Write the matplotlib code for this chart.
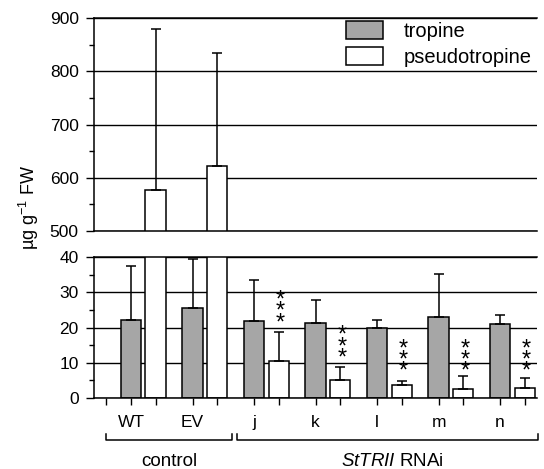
import matplotlib
matplotlib.use("Agg")
import matplotlib.pyplot as plt
from matplotlib.ticker import MultipleLocator
import numpy as np

plt.rcParams['font.family'] = ['Liberation Sans', 'DejaVu Sans']
plt.rcParams['mathtext.fontset'] = 'custom'
plt.rcParams['mathtext.rm'] = 'Liberation Sans'
plt.rcParams['mathtext.it'] = 'Liberation Sans:italic'

# data (µg g-1 FW), error bars are one-sided (up)
lines = ['WT', 'EV', 'j', 'k', 'l', 'm', 'n']
tropine = [22.1, 25.4, 21.9, 21.2, 20.0, 22.9, 20.9]
tropine_err = [15.4, 13.9, 11.6, 6.6, 2.1, 12.4, 2.6]
pseudotropine = [576.5, 621.7, 10.5, 5.1, 3.6, 2.5, 2.7]
pseudotropine_err = [302.5, 213.3, 8.2, 3.6, 1.3, 3.7, 3.0]
signif = ['', '', '***', '***', '***', '***', '***']

gray = '#a6a6a6'
x = np.arange(len(lines))
off = 0.4
w = 0.33

fig = plt.figure(figsize=(5.44, 4.69), dpi=100)
ax_top = fig.add_axes([0.1728, 0.5075, 0.8143, 0.4535])
ax_bot = fig.add_axes([0.1728, 0.1514, 0.8143, 0.3006])

for ax in (ax_top, ax_bot):
    ax.bar(x, tropine, w, color=gray, edgecolor='black', linewidth=1.1, zorder=2)
    ax.bar(x + off, pseudotropine, w, color='white', edgecolor='black', linewidth=1.1, zorder=2)
    ax.errorbar(x, tropine, yerr=[np.zeros(len(x)), tropine_err], fmt='none',
                ecolor='black', elinewidth=1.1, capsize=3.6, capthick=1.1, zorder=3)
    ax.errorbar(x + off, pseudotropine, yerr=[np.zeros(len(x)), pseudotropine_err], fmt='none',
                ecolor='black', elinewidth=1.1, capsize=3.6, capthick=1.1, zorder=3)
    ax.set_xlim(-0.602, 6.60)
    ax.yaxis.grid(True, color='black', linewidth=1.0, zorder=0)
    ax.set_axisbelow(True)
    ax.spines['right'].set_visible(False)
    for s in ('left', 'top', 'bottom'):
        ax.spines[s].set_linewidth(1.1)
    ax.tick_params(axis='y', which='major', length=6, width=1.0, pad=5, labelsize=12.5)
    ax.tick_params(axis='y', which='minor', length=3.5, width=1.0)

ax_top.set_ylim(500, 900)
ax_top.yaxis.set_major_locator(MultipleLocator(100))
ax_top.yaxis.set_minor_locator(MultipleLocator(50))
ax_top.tick_params(axis='x', bottom=False, labelbottom=False)

ax_bot.set_ylim(0, 40)
ax_bot.yaxis.set_major_locator(MultipleLocator(10))
ax_bot.yaxis.set_minor_locator(MultipleLocator(5))
ticks = np.concatenate([[x[0] - off], np.ravel(np.column_stack([x, x + off]))])
labels = [''] + [t for name in lines for t in (name, '')]
ax_bot.set_xticks(ticks, labels)
ax_bot.tick_params(axis='x', length=5, width=1.0, pad=7, labelsize=12.5)

# significance stars above pseudotropine bars
err_top = np.array(pseudotropine) + np.array(pseudotropine_err)
star_y = np.where(err_top < 8, 10.6, err_top + 5.7)
for xi, yi, s in zip(x + off, star_y, signif):
    if s:
        ax_bot.text(xi + 0.03, yi, '\n'.join(s), ha='center', va='center',
                    fontsize=17, linespacing=0.37, zorder=4)

# group brackets
tr = ax_bot.get_xaxis_transform()
for x0, x1, name, xc in [(-0.4, 1.64, 'control', 0.62),
                         (1.72, 6.62, r'$\mathit{StTRII}$ RNAi', 4.25)]:
    ax_bot.plot([x0, x0, x1, x1], [-0.255, -0.298, -0.298, -0.255], color='black',
                linewidth=1.1, transform=tr, clip_on=False)
    ax_bot.text(xc, -0.447, name, ha='center', va='center', fontsize=13.5, transform=tr)

leg = ax_top.legend(['tropine', 'pseudotropine'], loc='upper left',
                    bbox_to_anchor=(0.569, 0.985), frameon=False, fontsize=14.5,
                    borderpad=0, borderaxespad=0, handlelength=1.85, handleheight=0.95,
                    handletextpad=1.0, labelspacing=0.3)

fig.text(0.053, 0.5586, r'µg g$^{-1}$ FW', rotation=90, ha='center', va='center', fontsize=13)

plt.savefig('out.png', dpi=100)
